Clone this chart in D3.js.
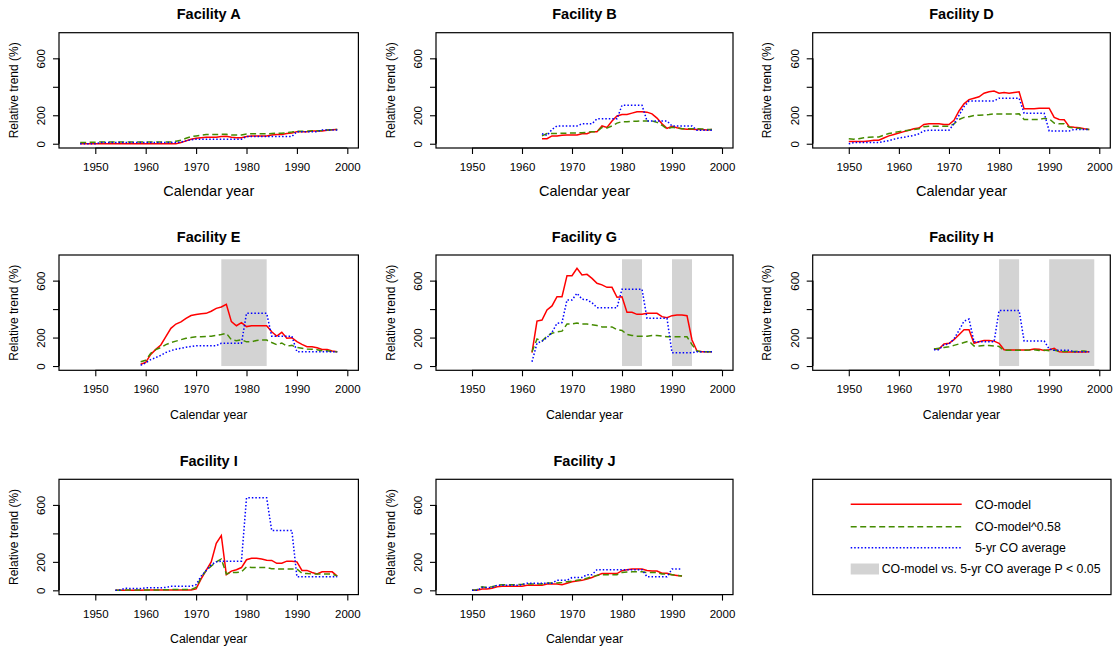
<!DOCTYPE html>
<html><head><meta charset="utf-8">
<script src="https://cdn.jsdelivr.net/npm/d3@7"></script>
<style>
html,body{margin:0;padding:0;background:#fff;}
svg text{font-family:"Liberation Sans",Arial,Helvetica,sans-serif;fill:#000;}
</style></head>
<body>
<svg id="chart" width="1120" height="648"></svg>
<script>
// ---------------- data ----------------
const xTicks = [1950, 1960, 1970, 1980, 1990, 2000];
const yTicks = [0, 200, 400, 600];
const yTickLabels = ["0", "200", "", "600"];
const seriesNames = ["CO-model", "CO-model^0.58", "5-yr CO average"];
const shadeName = "CO-model vs. 5-yr CO average P < 0.05";

// Facility A, 1947-1998
const facA_years = [1947, 1998];
const facA_model = [0,0,0,0,0,0,0,0,0,0,0,0,0,0,0,0,0,0,0,0,
  8,20,32,38,42,45,45,45,50,52,45,42,42,50,55,55,55,55,62,65,65,72,75,85,85,85,90,90,90,95,98,100];
const facA_pow = [8,8,10,10,12,12,12,12,12,12,12,12,12,12,12,12,12,12,12,
  18,25,38,50,55,60,65,65,65,66,66,62,62,62,68,70,70,70,70,72,74,74,78,82,88,88,88,92,92,93,97,98,100];
const facA_avg = [0,0,0,0,8,8,8,8,8,8,8,8,8,8,8,8,8,8,8,8,
  12,20,28,32,32,32,32,32,32,32,32,32,32,50,50,50,50,50,50,50,50,50,50,85,85,85,85,85,97,97,97,97];

// Facility B, 1964-1998
const facB_years = [1964, 1998];
const facB_model = [35,35,55,55,60,62,62,62,70,70,85,85,125,115,160,195,205,205,215,225,
  225,222,210,180,140,108,122,112,105,102,102,100,100,96,100];
const facB_pow = [55,72,72,72,74,74,75,75,78,80,85,85,115,110,125,145,155,155,158,158,
  160,160,160,150,130,105,115,110,105,105,105,105,104,100,100];
const facB_avg = [70,58,100,125,125,125,125,125,140,140,140,175,175,175,175,175,270,270,270,270,
  270,160,160,160,160,160,125,125,125,125,125,95,95,95,95];

// Facility D, 1950-1998
const facD_years = [1950, 1998];
const facD_model = [15,15,15,15,20,25,25,40,55,65, 75,85,95,105,110,135,140,140,140,135,
  135,165,230,280,310,320,330,355,365,370, 355,360,355,360,365,245,245,245,250,250,
  250,185,170,168,120,115,112,105,100];
const facD_pow = [35,32,35,42,45,48,48,60,72,78, 85,90,95,100,105,120,122,122,122,122,
  122,140,170,185,190,198,200,202,205,210, 208,208,208,208,210,170,170,170,170,178,
  175,145,140,140,115,110,108,102,100];
const facD_avg = [0,8,8,8,8,8,8,15,22,32, 40,45,52,58,70,90,95,95,95,95,
  95,140,200,260,300,300,300,300,300,300, 320,320,320,320,320,215,215,215,215,215,
  90,90,90,90,90,100,100,100,100];

// Facility E, 1959-1998
const facE_years = [1959, 1998];
const facE_model = [12,26,82,117,148,206,265,295,310,335, 355,362,368,370,385,405,415,433,312,283,
  305,277,283,283,283,283,241,211,237,195, 199,171,152,136,136,129,117,117,105,100];
const facE_pow = [30,40,90,115,130,150,165,175,185,195, 200,205,205,207,210,215,222,230,185,178,
  185,170,170,180,182,182,165,150,162,140, 145,130,125,120,118,115,108,108,102,100];
const facE_avg = [5,22,45,60,75,95,108,118,125,132, 137,143,143,143,143,143,160,160,160,160,
  160,370,370,370,370,370,210,210,210,210, 210,100,100,100,100,100,100,100,100,98];
const facE_shade = [[1975, 1984]];

// Facility G, 1962-1998
const facG_years = [1962, 1998];
const facG_model = [94,316,323,394,422,487,487,635,635,687, 640,644,616,581,570,553,553,483,487,377,
  377,363,363,370,370,370,347,340,354,359, 359,354,183,105,101,100,100];
const facG_pow = [100,190,175,210,230,240,245,295,295,302, 295,295,290,285,275,275,275,255,250,222,
  215,210,210,210,215,215,210,205,205,205, 205,205,150,105,100,100,100];
const facG_avg = [30,160,175,200,237,300,305,464,464,511, 470,465,445,410,410,410,410,410,540,540,
  540,540,540,335,335,335,335,335,94,94, 94,94,94,100,100,100,100];
const facG_shade = [[1980, 1984], [1990, 1994]];

// Facility H, 1967-1998
const facH_years = [1967, 1998];
const facH_model = [120,120,155,160,185,220,255,255,160,170, 180,180,175,160,115,112,112,112,112,112,
  120,118,110,115,125,100,98,98,98,98, 98,100];
const facH_pow = [120,125,130,135,145,155,165,175,140,140, 145,145,140,138,110,110,110,110,110,112,
  115,110,112,108,112,102,102,102,102,105, 105,100];
const facH_avg = [115,115,150,155,190,250,315,330,170,170, 170,170,170,390,390,390,390,390,176,176,
  176,176,176,120,110,110,110,110,100,100, 100,100];
const facH_shade = [[1980, 1984], [1990, 1999]];

// Facility I, 1954-1998
const facI_years = [1954, 1998];
const facI_model = [0,0,0,0,0,0,2,2,2,2, 3,3,3,3,3,3,10,80,140,200,
  330,385,110,135,145,160,215,225,225,220, 212,210,190,190,205,205,200,140,140,125,
  115,130,130,130,100];
const facI_pow = [0,0,2,2,2,2,3,3,3,3, 4,5,5,5,5,5,20,90,140,170,
  200,220,115,125,125,130,165,160,160,160, 160,152,150,150,150,150,150,120,118,115,
  115,115,115,115,100];
const facI_avg = [0,3,15,12,12,12,18,18,18,18, 20,28,28,28,28,28,40,100,140,180,
  200,205,205,205,205,205,650,650,650,650, 650,420,420,420,420,420,95,95,95,95,
  95,95,95,95,95];

// Facility J, 1950-1992
const facJ_years = [1950, 1992];
const facJ_model = [0,0,10,10,15,25,28,28,28,28, 28,35,35,35,35,45,45,45,40,50,
  60,65,70,80,90,105,118,118,118,118, 138,145,150,150,150,140,135,135,120,120,
  110,105,100];
const facJ_pow = [0,5,25,20,25,35,40,40,40,40, 42,45,45,45,45,52,52,52,55,60,
  65,70,75,85,95,105,110,110,110,110, 125,128,130,130,130,125,125,125,115,115,
  110,105,100];
const facJ_avg = [0,0,20,20,20,35,35,35,35,35, 40,50,50,50,50,50,50,70,70,70,
  90,90,90,110,110,145,145,145,145,145, 145,145,145,145,145,95,95,95,95,95,
  150,150,150];

// ---------------- layout ----------------
const panels = [
  {title:"Facility A", col:0, row:0, years:facA_years, s:[facA_model, facA_pow, facA_avg], shade:[]},
  {title:"Facility B", col:1, row:0, years:facB_years, s:[facB_model, facB_pow, facB_avg], shade:[]},
  {title:"Facility D", col:2, row:0, years:facD_years, s:[facD_model, facD_pow, facD_avg], shade:[]},
  {title:"Facility E", col:0, row:1, years:facE_years, s:[facE_model, facE_pow, facE_avg], shade:facE_shade},
  {title:"Facility G", col:1, row:1, years:facG_years, s:[facG_model, facG_pow, facG_avg], shade:facG_shade},
  {title:"Facility H", col:2, row:1, years:facH_years, s:[facH_model, facH_pow, facH_avg], shade:facH_shade},
  {title:"Facility I", col:0, row:2, years:facI_years, s:[facI_model, facI_pow, facI_avg], shade:[]},
  {title:"Facility J", col:1, row:2, years:facJ_years, s:[facJ_model, facJ_pow, facJ_avg], shade:[]}
];

const colLeft = [59, 436, 812.7];
const colWidth = [299.4, 297, 297.6];
const rowTop = [32.7, 255, 479.3];
const boxH = 115.3;
const xLabelSize = [14.5, 12.3, 12.3];
const colors = ["#FF0000", "#458B00", "#0000FF"];
const dashes = [null, "6,3.5", "1.5,2"];
const shadeColor = "#D3D3D3";

const svg = d3.select("#chart");

panels.forEach(p => {
  const L = colLeft[p.col], T = rowTop[p.row], w = colWidth[p.col], h = boxH;
  const g = svg.append("g").attr("transform", `translate(${L},${T})`);
  const x = d3.scaleLinear().domain([1942.8, 2002.2]).range([0, w]);
  const y = d3.scaleLinear().domain([-30, 780]).range([h, 0]);

  // shading
  g.selectAll("rect.shade").data(p.shade).join("rect")
    .attr("class", "shade")
    .attr("x", d => x(d[0])).attr("width", d => x(d[1]) - x(d[0]))
    .attr("y", y(750)).attr("height", y(0) - y(750))
    .attr("fill", shadeColor);

  // lines
  const yrs = d3.range(p.years[0], p.years[1] + 1);
  const line = d3.line().x((d, i) => x(yrs[i])).y(d => y(d));
  p.s.forEach((vals, k) => {
    g.append("path").datum(vals)
      .attr("d", line)
      .attr("fill", "none")
      .attr("stroke", colors[k])
      .attr("stroke-width", 1.5)
      .attr("stroke-dasharray", dashes[k]);
  });

  // box
  g.append("rect").attr("x", 0).attr("y", 0).attr("width", w).attr("height", h)
    .attr("fill", "none").attr("stroke", "#000").attr("stroke-width", 1.2);

  // x axis
  const xa = g.append("g").attr("transform", `translate(0,${h})`)
    .call(d3.axisBottom(x).tickValues(xTicks).tickSize(6).tickSizeOuter(0).tickFormat(d3.format("d")));
  xa.select(".domain").remove();
  xa.append("line").attr("x1", x(xTicks[0])).attr("x2", x(xTicks[xTicks.length-1]))
    .attr("stroke", "#000").attr("stroke-width", 1.2);
  xa.selectAll(".tick line").attr("stroke", "#000").attr("stroke-width", 1.1);
  xa.selectAll(".tick text").attr("y", 23).attr("dy", null)
    .style("font-size", "11.5px").style("font-family", '"Liberation Sans",Arial,sans-serif').attr("fill", "#000");

  // y axis
  const ya = g.append("g")
    .call(d3.axisLeft(y).tickValues(yTicks).tickSize(6).tickSizeOuter(0).tickFormat((d, i) => yTickLabels[i]));
  ya.select(".domain").remove();
  ya.append("line").attr("y1", y(yTicks[0])).attr("y2", y(yTicks[yTicks.length-1]))
    .attr("stroke", "#000").attr("stroke-width", 1.6);
  ya.selectAll(".tick line").attr("stroke", "#000").attr("stroke-width", 1.1);
  ya.selectAll(".tick text").attr("x", null).attr("dy", null).attr("text-anchor", "middle")
    .attr("transform", "translate(-14,0) rotate(-90)")
    .style("font-size", "11.5px").style("font-family", '"Liberation Sans",Arial,sans-serif').attr("fill", "#000");

  // title
  g.append("text").attr("x", w / 2).attr("y", -13.5).attr("text-anchor", "middle")
    .style("font-size", "14.5px").style("font-weight", "bold").text(p.title);
  // x label
  g.append("text").attr("x", w / 2).attr("y", h + 48.5).attr("text-anchor", "middle")
    .style("font-size", xLabelSize[p.row] + "px").text("Calendar year");
  // y label
  g.append("text").attr("transform", `translate(-41.5,${h / 2}) rotate(-90)`).attr("text-anchor", "middle")
    .style("font-size", "12px").text("Relative trend (%)");
});

// ---------------- legend ----------------
const lg = svg.append("g").attr("transform", `translate(${colLeft[2]},${rowTop[2]})`);
lg.append("rect").attr("x", 0).attr("y", 0).attr("width", 298.3).attr("height", boxH)
  .attr("fill", "none").attr("stroke", "#000").attr("stroke-width", 1.2);
const lineX0 = 38, lineX1 = 149, textX = 162.3;
const rowY = [25, 47.4, 68.4, 89.7];
seriesNames.forEach((name, k) => {
  lg.append("line").attr("x1", lineX0).attr("x2", lineX1).attr("y1", rowY[k]).attr("y2", rowY[k])
    .attr("stroke", colors[k]).attr("stroke-width", 1.5).attr("stroke-dasharray", dashes[k]);
  lg.append("text").attr("x", textX).attr("y", rowY[k] + 4.3).style("font-size", "12.3px").text(name);
});
lg.append("rect").attr("x", lineX0).attr("y", rowY[3] - 5.5).attr("width", 28.3).attr("height", 11)
  .attr("fill", shadeColor);
lg.append("text").attr("x", 69).attr("y", rowY[3] + 4.3).style("font-size", "12.3px").text(shadeName);
</script>
</body></html>
